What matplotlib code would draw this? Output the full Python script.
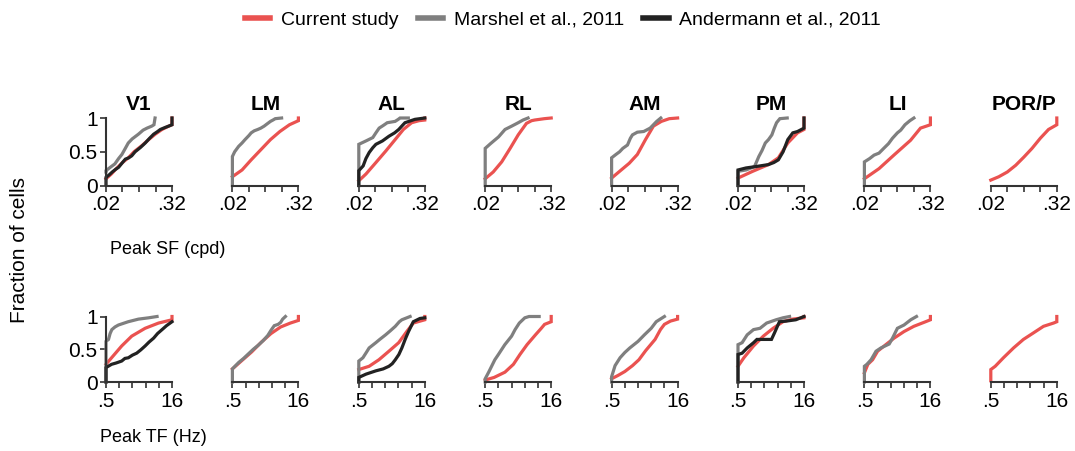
import matplotlib
matplotlib.use("Agg")
import matplotlib.pyplot as plt
from matplotlib.lines import Line2D

plt.rcParams['font.family'] = ['Liberation Sans', 'DejaVu Sans']

areas = ['V1', 'LM', 'AL', 'RL', 'AM', 'PM', 'LI', 'POR/P']
sf_ticks = [0.02, 0.04, 0.08, 0.16, 0.32]
sf_labels = ['.02', '', '', '', '.32']
tf_ticks = [0.5, 1, 2, 4, 8, 16]
tf_labels = ['.5', '', '', '', '', '16']

RED = '#ea5250'
GRAY = '#7f7f7f'
BLACK = '#222222'

# ---- peak SF (cpd), cumulative fraction of cells ----
v1_sf_cur = [(0.020, 0.10), (0.025, 0.17), (0.030, 0.24), (0.040, 0.34), (0.051, 0.41), (0.065, 0.50),
             (0.090, 0.59), (0.120, 0.68), (0.158, 0.76), (0.210, 0.83), (0.279, 0.88), (0.320, 0.90), (0.320, 1.0)]
v1_sf_mar = [(0.020, 0.20), (0.020, 0.22), (0.024, 0.27), (0.029, 0.32), (0.034, 0.40), (0.039, 0.46),
             (0.045, 0.55), (0.051, 0.63), (0.060, 0.69), (0.078, 0.76), (0.095, 0.82), (0.112, 0.85),
             (0.137, 0.88), (0.150, 0.90), (0.157, 1.0)]
v1_sf_and = [(0.020, 0.02), (0.020, 0.12), (0.023, 0.16), (0.026, 0.20), (0.030, 0.24), (0.034, 0.27),
             (0.039, 0.33), (0.045, 0.39), (0.052, 0.41), (0.059, 0.44), (0.068, 0.50), (0.084, 0.56),
             (0.095, 0.60), (0.104, 0.63), (0.125, 0.70), (0.148, 0.76), (0.175, 0.80), (0.196, 0.83),
             (0.240, 0.86), (0.279, 0.88), (0.320, 0.90), (0.320, 1.0)]
lm_sf_cur = [(0.020, 0.13), (0.030, 0.23), (0.044, 0.38), (0.066, 0.53), (0.099, 0.68), (0.147, 0.80),
             (0.220, 0.90), (0.300, 0.95), (0.320, 0.96), (0.320, 1.0)]
lm_sf_mar = [(0.020, 0.0), (0.020, 0.43), (0.022, 0.50), (0.026, 0.58), (0.030, 0.63), (0.034, 0.68),
             (0.040, 0.74), (0.044, 0.78), (0.050, 0.81), (0.058, 0.83), (0.066, 0.85), (0.076, 0.88),
             (0.085, 0.91), (0.099, 0.95), (0.110, 0.97), (0.121, 0.99), (0.158, 1.0)]
al_sf_cur = [(0.020, 0.07), (0.027, 0.17), (0.041, 0.34), (0.062, 0.51), (0.092, 0.68), (0.130, 0.83),
             (0.184, 0.93), (0.250, 0.96), (0.320, 0.97), (0.320, 1.0)]
al_sf_mar = [(0.020, 0.0), (0.020, 0.61), (0.027, 0.66), (0.036, 0.71), (0.041, 0.78), (0.047, 0.85),
             (0.056, 0.89), (0.066, 0.93), (0.092, 0.95), (0.105, 0.98), (0.113, 1.0), (0.160, 1.0)]
al_sf_and = [(0.020, 0.0), (0.020, 0.22), (0.024, 0.29), (0.027, 0.40), (0.031, 0.49), (0.036, 0.56),
             (0.041, 0.61), (0.054, 0.66), (0.071, 0.73), (0.090, 0.78), (0.107, 0.83), (0.125, 0.89),
             (0.139, 0.93), (0.211, 0.98), (0.320, 1.0)]
rl_sf_cur = [(0.020, 0.10), (0.028, 0.20), (0.040, 0.35), (0.057, 0.55), (0.080, 0.75), (0.113, 0.92),
             (0.140, 0.96), (0.160, 0.97), (0.240, 0.99), (0.320, 1.0)]
rl_sf_mar = [(0.020, 0.0), (0.020, 0.55), (0.025, 0.62), (0.035, 0.72), (0.046, 0.83), (0.061, 0.88),
             (0.080, 0.93), (0.098, 0.97), (0.121, 1.0)]
am_sf_cur = [(0.020, 0.11), (0.028, 0.21), (0.042, 0.33), (0.059, 0.46), (0.083, 0.68), (0.116, 0.88),
             (0.162, 0.95), (0.226, 0.99), (0.320, 1.0)]
am_sf_mar = [(0.020, 0.0), (0.020, 0.41), (0.024, 0.46), (0.028, 0.50), (0.032, 0.55), (0.039, 0.60),
             (0.044, 0.70), (0.048, 0.75), (0.059, 0.79), (0.077, 0.80), (0.101, 0.85), (0.133, 0.95),
             (0.158, 1.0)]
pm_sf_cur = [(0.020, 0.11), (0.037, 0.21), (0.072, 0.31), (0.109, 0.41), (0.162, 0.63), (0.244, 0.78),
             (0.320, 0.83), (0.320, 1.0)]
pm_sf_mar = [(0.020, 0.0), (0.020, 0.21), (0.028, 0.23), (0.040, 0.28), (0.048, 0.43), (0.055, 0.52),
             (0.063, 0.63), (0.072, 0.68), (0.083, 0.75), (0.092, 0.85), (0.101, 0.93), (0.116, 0.99),
             (0.158, 1.0)]
pm_sf_and = [(0.020, 0.0), (0.020, 0.23), (0.028, 0.26), (0.042, 0.28), (0.072, 0.31), (0.090, 0.34),
             (0.109, 0.38), (0.133, 0.50), (0.162, 0.68), (0.200, 0.78), (0.244, 0.80), (0.320, 0.85),
             (0.320, 1.0)]
li_sf_cur = [(0.020, 0.10), (0.037, 0.25), (0.069, 0.45), (0.139, 0.67), (0.211, 0.85), (0.320, 0.90),
             (0.320, 1.0)]
li_sf_mar = [(0.020, 0.0), (0.020, 0.35), (0.025, 0.40), (0.030, 0.45), (0.037, 0.48), (0.045, 0.55),
             (0.055, 0.62), (0.065, 0.70), (0.080, 0.78), (0.092, 0.82), (0.110, 0.90), (0.135, 0.96),
             (0.160, 1.0)]
por_sf_cur = [(0.020, 0.08), (0.028, 0.13), (0.040, 0.20), (0.057, 0.30), (0.080, 0.42), (0.113, 0.55),
              (0.160, 0.70), (0.226, 0.83), (0.320, 0.90), (0.320, 1.0)]

# ---- peak TF (Hz), cumulative fraction of cells ----
v1_tf_cur = [(0.5, 0.27), (0.67, 0.37), (1.14, 0.55), (1.93, 0.70), (3.9, 0.82), (7.9, 0.90), (16, 0.95),
             (16, 1.0)]
v1_tf_mar = [(0.5, 0.0), (0.5, 0.62), (0.57, 0.65), (0.62, 0.74), (0.68, 0.80), (0.80, 0.84), (0.96, 0.87),
             (1.6, 0.92), (2.75, 0.96), (4.7, 0.98), (7.3, 1.0)]
v1_tf_and = [(0.5, 0.0), (0.5, 0.22), (0.67, 0.27), (0.85, 0.29), (1.14, 0.32), (1.35, 0.36), (1.62, 0.37),
             (2.0, 0.41), (2.5, 0.44), (3.1, 0.49), (3.9, 0.55), (4.8, 0.61), (6.1, 0.67), (7.5, 0.74),
             (9.5, 0.80), (12, 0.86), (16, 0.92)]
lm_tf_cur = [(0.5, 0.20), (0.83, 0.33), (1.38, 0.46), (2.3, 0.61), (3.8, 0.74), (6.3, 0.84), (10.5, 0.90),
             (16, 0.94), (16, 1.0)]
lm_tf_mar = [(0.5, 0.0), (0.5, 0.20), (0.70, 0.30), (0.90, 0.36), (1.16, 0.43), (1.5, 0.50), (1.93, 0.56),
             (2.5, 0.63), (3.2, 0.71), (3.8, 0.79), (4.5, 0.86), (5.5, 0.88), (6.3, 0.91), (7.0, 0.96),
             (8.1, 1.0)]
al_tf_cur = [(0.5, 0.19), (0.86, 0.24), (1.44, 0.34), (2.43, 0.47), (4.06, 0.60), (6.2, 0.77), (8.75, 0.90),
             (16, 0.95), (16, 1.0)]
al_tf_mar = [(0.5, 0.0), (0.5, 0.32), (0.62, 0.37), (0.74, 0.45), (0.86, 0.52), (1.22, 0.60), (1.5, 0.65),
             (2.04, 0.72), (2.6, 0.78), (3.4, 0.85), (4.2, 0.92), (4.8, 0.95), (7.4, 1.0)]
al_tf_and = [(0.5, 0.0), (0.5, 0.07), (0.73, 0.12), (1.22, 0.17), (1.8, 0.20), (2.43, 0.24), (2.9, 0.28),
             (3.4, 0.34), (4.1, 0.42), (4.8, 0.52), (5.7, 0.65), (6.8, 0.77), (8.75, 0.92), (12.4, 0.97),
             (16, 0.98)]
rl_tf_cur = [(0.5, 0.03), (0.8, 0.07), (1.41, 0.15), (2.2, 0.27), (3.1, 0.42), (4.5, 0.57), (7.0, 0.72),
             (9.5, 0.82), (11.3, 0.88), (16, 0.92), (16, 1.0)]
rl_tf_mar = [(0.5, 0.0), (0.5, 0.05), (0.6, 0.15), (0.83, 0.34), (1.0, 0.42), (1.4, 0.57), (2.0, 0.70),
             (2.4, 0.80), (3.0, 0.90), (4.0, 0.98), (5.0, 1.0), (8.5, 1.0)]
am_tf_cur = [(0.5, 0.05), (0.7, 0.10), (1.0, 0.16), (1.5, 0.25), (2.1, 0.34), (3.0, 0.48), (4.9, 0.65),
             (6.5, 0.80), (8.0, 0.88), (11, 0.93), (16, 0.96), (16, 1.0)]
am_tf_mar = [(0.5, 0.0), (0.5, 0.08), (0.6, 0.25), (0.78, 0.37), (1.0, 0.45), (1.3, 0.52), (2.0, 0.62),
             (2.8, 0.72), (4.0, 0.82), (5.2, 0.92), (6.1, 0.95), (8.0, 1.0)]
pm_tf_cur = [(0.5, 0.24), (0.68, 0.37), (1.13, 0.55), (1.89, 0.70), (3.16, 0.82), (5.3, 0.92), (8.8, 0.96),
             (16, 0.98), (16, 1.0)]
pm_tf_mar = [(0.5, 0.0), (0.5, 0.57), (0.62, 0.60), (0.81, 0.72), (1.13, 0.80), (1.59, 0.82), (2.25, 0.90),
             (3.7, 0.95), (5.3, 0.98), (7.5, 1.0)]
pm_tf_and = [(0.5, 0.0), (0.5, 0.42), (0.62, 0.44), (0.81, 0.52), (1.13, 0.60), (1.35, 0.65), (2.9, 0.65),
             (3.4, 0.75), (4.4, 0.92), (6.3, 0.93), (10.4, 0.95), (16, 1.0)]
li_tf_cur = [(0.5, 0.14), (0.6, 0.27), (0.77, 0.34), (1.0, 0.47), (1.41, 0.55), (2.38, 0.67), (4.0, 0.77),
             (6.7, 0.85), (12.4, 0.92), (16, 0.95), (16, 1.0)]
li_tf_mar = [(0.5, 0.0), (0.5, 0.24), (0.57, 0.27), (0.71, 0.34), (0.92, 0.47), (1.19, 0.52), (1.84, 0.58),
             (2.19, 0.67), (2.83, 0.82), (4.0, 0.87), (5.7, 0.95), (7.7, 1.0)]
por_tf_cur = [(0.5, 0.02), (0.5, 0.19), (0.63, 0.24), (0.97, 0.37), (1.65, 0.52), (2.77, 0.65), (4.7, 0.75),
              (7.95, 0.85), (13.5, 0.90), (16, 0.92), (16, 1.0)]

sf_rows = [
    (v1_sf_cur, v1_sf_mar, v1_sf_and),
    (lm_sf_cur, lm_sf_mar, None),
    (al_sf_cur, al_sf_mar, al_sf_and),
    (rl_sf_cur, rl_sf_mar, None),
    (am_sf_cur, am_sf_mar, None),
    (pm_sf_cur, pm_sf_mar, pm_sf_and),
    (li_sf_cur, li_sf_mar, None),
    (por_sf_cur, None, None),
]
tf_rows = [
    (v1_tf_cur, v1_tf_mar, v1_tf_and),
    (lm_tf_cur, lm_tf_mar, None),
    (al_tf_cur, al_tf_mar, al_tf_and),
    (rl_tf_cur, rl_tf_mar, None),
    (am_tf_cur, am_tf_mar, None),
    (pm_tf_cur, pm_tf_mar, pm_tf_and),
    (li_tf_cur, li_tf_mar, None),
    (por_tf_cur, None, None),
]

W, H = 1075, 451
fig = plt.figure(figsize=(W / 100, H / 100), dpi=100)

rows = [
    (sf_rows, sf_ticks, sf_labels, 185.5, 67.5),
    (tf_rows, tf_ticks, tf_labels, 382.0, 65.5),
]

for r, (data, ticks, labels, y0, hgt) in enumerate(rows):
    for i, area in enumerate(areas):
        left = 106 + 126.4 * i
        ax = fig.add_axes([left / W, (H - y0) / H, 66 / W, hgt / H])
        for series, col in zip(data[i], [RED, GRAY, BLACK]):
            if series is None:
                continue
            xs, ys = zip(*series)
            ax.plot(xs, ys, color=col, lw=2.3, clip_on=False, solid_joinstyle='miter')
        ax.set_xscale('log', base=2)
        ax.set_xlim(ticks[0], ticks[-1])
        ax.set_ylim(0, 1)
        ax.set_xticks(ticks)
        ax.set_xticklabels(labels)
        ax.minorticks_off()
        for s in ['top', 'right']:
            ax.spines[s].set_visible(False)
        ax.spines['bottom'].set_linewidth(1.5)
        ax.spines['bottom'].set_color('#333333')
        ax.tick_params(axis='x', length=4, width=1.2, color='#333333', labelsize=15, pad=3)
        if i == 0:
            ax.spines['left'].set_linewidth(1.5)
            ax.spines['left'].set_color('#333333')
            ax.set_yticks([0, 0.5, 1])
            ax.set_yticklabels(['0', '0.5', '1'])
            ax.tick_params(axis='y', length=4, width=1.2, color='#333333', labelsize=15, pad=2)
        else:
            ax.spines['left'].set_visible(False)
            ax.set_yticks([])
        ax.patch.set_alpha(0)
        if r == 0:
            ax.set_title(area, fontsize=15, fontweight='bold', pad=6)

fig.text(110 / W, 1 - 250 / H, 'Peak SF (cpd)', fontsize=13, ha='left', va='center')
fig.text(100 / W, 1 - 437 / H, 'Peak TF (Hz)', fontsize=13, ha='left', va='center')
fig.text(20 / W, 1 - 250 / H, 'Fraction of cells', fontsize=15, rotation=90, ha='center', va='center')

handles = [Line2D([], [], color=RED, lw=4),
           Line2D([], [], color=GRAY, lw=4),
           Line2D([], [], color=BLACK, lw=4)]
fig.legend(handles, ['Current study', 'Marshel et al., 2011', 'Andermann et al., 2011'],
           loc='center', bbox_to_anchor=(563 / W, 1 - 20 / H), ncol=3, frameon=False,
           fontsize=14, handlelength=1.3, handletextpad=0.55, columnspacing=1.0)

fig.savefig('out.png', dpi=100)
